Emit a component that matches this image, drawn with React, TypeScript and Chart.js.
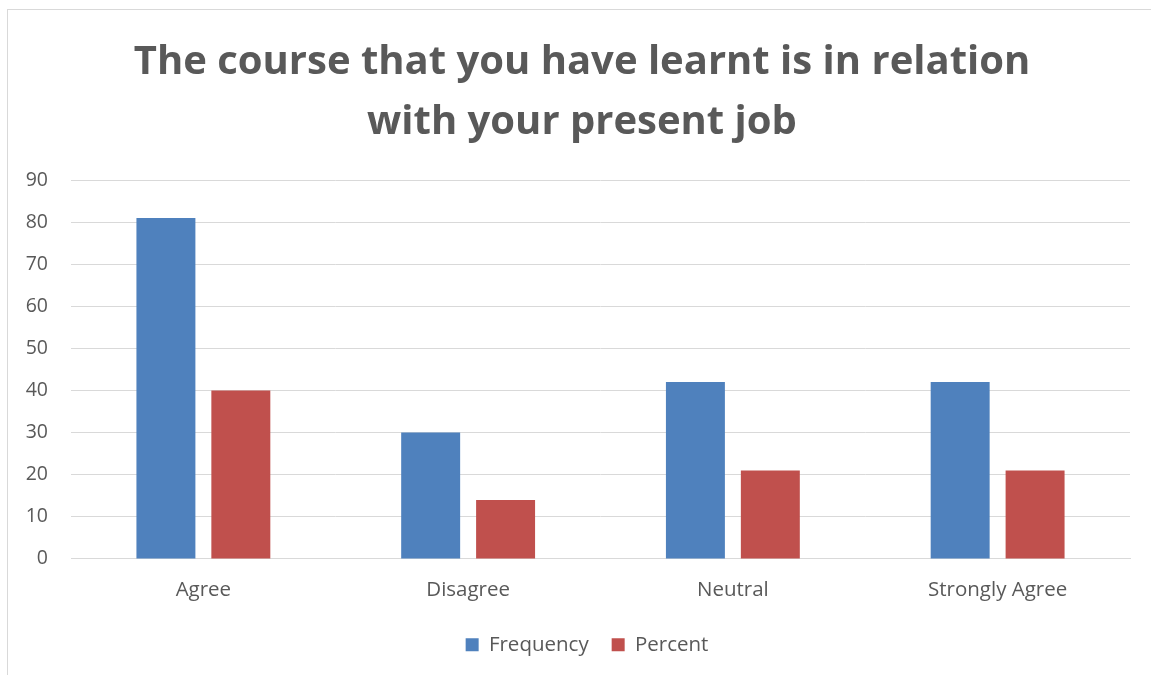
import React, { useEffect, useRef } from "react";
import { Chart, registerables } from "chart.js";

Chart.register(...registerables);

const titleLines = ["The course that you have learnt is in relation", "with your present job"];
const categories = ["Agree", "Disagree", "Neutral", "Strongly Agree"];
const frequency = [81, 30, 42, 42];
const percent = [40, 14, 21, 21];
const yMin = 0;
const yMax = 90;
const yStep = 10;

const FONT = "'Open Sans', 'DejaVu Sans', sans-serif";
const TEXT = "#595959";
const Y_FONT_SIZE = 19.5;
const LEGEND_GAP = 23;

function measureWidest(): number {
  const c = document.createElement("canvas");
  const ctx = c.getContext("2d") as CanvasRenderingContext2D;
  ctx.font = `${Y_FONT_SIZE}px ${FONT}`;
  let w = 0;
  for (let v = yMin; v <= yMax; v += yStep) {
    w = Math.max(w, ctx.measureText(String(v)).width);
  }
  return w;
}

// Lets the legend use a wide horizontal gap between items without pushing it upward.
const legendShift = {
  id: "legendShift",
  afterInit(chart: any) {
    const lg = chart.legend;
    if (!lg) return;
    const orig = lg.draw.bind(lg);
    lg.draw = (...args: any[]) => {
      const ctx = chart.ctx;
      ctx.save();
      ctx.translate(5, -10);
      orig(...args);
      ctx.restore();
    };
  },
};

export default function App() {
  const ref = useRef<HTMLCanvasElement | null>(null);
  useEffect(() => {
    document.body.style.overflow = "hidden";
    const widest = measureWidest();
    const chart = new Chart(ref.current as HTMLCanvasElement, {
      type: "bar",
      data: {
        labels: categories,
        datasets: [
          { label: "Frequency", data: frequency, backgroundColor: "#4F81BD", barPercentage: 0.787, categoryPercentage: 0.566 },
          { label: "Percent", data: percent, backgroundColor: "#C0504D", barPercentage: 0.787, categoryPercentage: 0.566 },
        ],
      },
      plugins: [legendShift],
      options: {
        responsive: false,
        animation: false,
        layout: { padding: { left: 26, right: 21, top: 0, bottom: 0 } },
        plugins: {
          title: {
            display: true,
            text: titleLines,
            color: TEXT,
            font: { family: FONT, size: 40, weight: "bold", lineHeight: 1.5 },
            padding: { top: 23, bottom: 27 },
          },
          legend: {
            position: "bottom",
            labels: {
              color: TEXT,
              font: { family: FONT, size: 20.5 },
              boxWidth: 13,
              boxHeight: 13,
              padding: LEGEND_GAP,
            },
          },
          tooltip: { enabled: false },
        },
        scales: {
          x: {
            grid: { display: false, drawTicks: false },
            border: { display: true, color: "#d9d9d9", width: 1 },
            ticks: { color: TEXT, font: { family: FONT, size: 20.5 }, padding: 19 },
          },
          y: {
            min: yMin,
            max: yMax,
            grid: { color: "#d9d9d9", drawTicks: false },
            border: { display: false },
            ticks: {
              stepSize: yStep,
              color: TEXT,
              font: { family: FONT, size: Y_FONT_SIZE },
              mirror: true,
              crossAlign: "far",
              padding: -23 - widest,
            },
            afterFit: (scale: any) => {
              scale.width = 37;
            },
          },
        },
      },
    });
    return () => chart.destroy();
  }, []);
  return (
    <div
      style={{
        position: "absolute",
        left: 7,
        top: 9,
        width: 1144,
        height: 666,
        borderLeft: "1px solid #d9d9d9",
        borderTop: "1px solid #d9d9d9",
        background: "#fff",
      }}
    >
      <canvas ref={ref} width={1143} height={665} style={{ display: "block" }} />
    </div>
  );
}
